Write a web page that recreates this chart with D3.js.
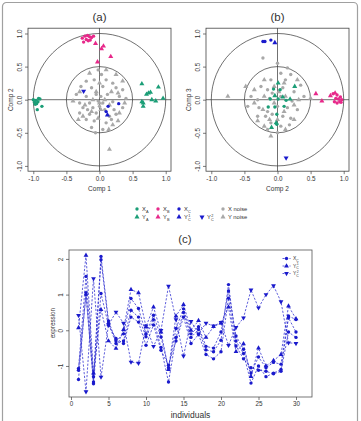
<!DOCTYPE html>
<html>
<head>
<meta charset="utf-8">
<script src="https://cdn.jsdelivr.net/npm/d3@7"></script>
<style>
body { margin: 0; background: #fff; }
text { font-family: "Liberation Sans", Arial, sans-serif; fill: #333; }
</style>
</head>
<body>
<div id="chart"></div>
<script>

/*
DATA - PANEL (a): COMP 1 vs COMP 2
*/
const aXA = [[-0.92,0.02],[-0.96,-0.01],[-0.95,-0.06],[-0.97,-0.07],[-0.93,-0.03],[-0.87,-0.1],[-0.94,-0.15],[-1.0,0.0],[-0.9,0.01],[-0.98,-0.04]];
const aYA = [[0.64,0.24],[0.89,0.19],[0.74,0.1],[0.71,0.08],[0.77,0.11],[0.96,0.02],[0.79,0.0],[0.85,-0.02],[0.64,-0.03],[0.66,-0.1],[0.66,-0.05]];
const aXB = [[-0.22,0.96],[-0.18,0.97],[-0.15,0.95],[-0.12,0.94],[-0.24,0.87],[-0.2,0.91],[-0.17,0.89],[-0.09,0.96],[-0.14,0.9],[-0.26,0.93]];
const aYB = [[-0.06,0.85],[0.03,0.77],[0.06,0.81],[0.17,0.65],[-0.03,0.57]];
const aXC = [[0.29,-0.06],[0.13,-0.1],[0.1,-0.18]];
const aYC1 = [[0.12,-0.23]];
const aYC2 = [[-0.24,0.13]];
const aNoiseX = [[-0.02,0.45],[0.03,0.38],[-0.08,0.3],[0.1,0.3],[0.2,0.25],[-0.2,0.28],[-0.28,0.2],[-0.12,0.18],[0.05,0.2],[0.25,0.18],[0.35,0.15],[-0.35,0.08],[-0.2,0.05],[-0.05,0.08],[0.02,0.05],[0.12,0.08],[0.3,0.05],[0.4,0.02],[-0.3,-0.05],[-0.15,-0.05],[-0.02,-0.02],[0.05,-0.05],[0.2,-0.03],[-0.25,-0.12],[-0.18,-0.15],[-0.1,-0.12],[0.0,-0.1],[0.08,-0.15],[0.22,-0.15],[0.35,-0.12],[-0.3,-0.2],[-0.15,-0.22],[-0.05,-0.2],[0.15,-0.25],[0.25,-0.22],[-0.2,-0.3],[-0.08,-0.32],[0.1,-0.35],[0.18,-0.3],[-0.12,-0.42],[0.05,-0.45],[-0.06,-0.5]];
const aNoiseY = [[0.25,0.38],[0.35,0.28],[-0.15,0.4],[0.0,0.25],[-0.3,0.12],[0.18,0.12],[0.28,0.1],[-0.1,0.0],[0.08,0.0],[-0.4,-0.02],[0.38,-0.05],[-0.22,-0.08],[0.0,-0.05],[0.15,-0.08],[-0.12,-0.18],[0.02,-0.15],[0.3,-0.2],[-0.25,-0.25],[-0.02,-0.28],[0.2,-0.38],[0.14,-0.45],[-0.32,-0.3],[0.28,-0.32],[0.15,-0.75],[-0.05,0.12],[0.1,0.45]];

/*
DATA - PANEL (b): COMP 2 vs COMP 3
*/
const bXA = [[-0.06,0.16],[0.04,0.15],[-0.11,0.01],[0.01,0.01],[0.13,-0.01],[-0.04,-0.11],[-0.01,-0.22],[-0.01,-0.37],[-0.14,-0.11],[0.1,-0.1]];
const bYA = [[0.01,0.25],[0.26,0.2],[-0.04,0.06],[0.19,0.01],[-0.09,-0.42],[0.08,0.04],[-0.02,-0.35]];
const bXB = [[0.84,0.09],[0.9,0.07],[0.92,0.01],[0.95,0.04],[0.97,0.0],[0.94,-0.03],[0.86,-0.03],[0.9,-0.05],[0.96,-0.04],[0.88,0.02]];
const bYB = [[0.58,0.09],[0.67,-0.02],[0.8,0.06],[0.87,0.1]];
const bXC = [[-0.22,0.88],[-0.19,0.88],[-0.1,0.9]];
const bYC1 = [[-0.04,0.86]];
const bYC2 = [[0.13,-0.88]];
const bNoiseX = [[0.0,0.55],[0.15,0.48],[0.05,0.4],[-0.1,0.3],[0.12,0.3],[0.2,0.38],[-0.25,0.2],[-0.15,0.15],[0.08,0.18],[0.25,0.12],[-0.4,0.05],[-0.3,0.0],[-0.12,0.02],[0.05,0.05],[0.22,-0.02],[0.4,0.05],[-0.45,-0.1],[-0.28,-0.12],[-0.15,-0.18],[0.0,-0.1],[0.15,-0.12],[0.3,-0.15],[-0.3,-0.25],[-0.18,-0.25],[-0.08,-0.22],[0.08,-0.25],[0.2,-0.28],[-0.1,-0.35],[0.05,-0.4],[0.18,-0.38],[-0.15,-0.45],[0.0,-0.5],[-0.22,0.63],[-0.08,0.1],[0.35,0.22]];
const bNoiseY = [[0.1,0.25],[-0.05,0.2],[-0.2,0.3],[0.3,0.3],[-0.35,0.15],[0.02,0.12],[-0.2,0.05],[0.12,0.05],[0.32,0.0],[-0.35,-0.05],[-0.05,-0.05],[0.25,-0.08],[-0.22,-0.15],[0.1,-0.18],[-0.3,-0.32],[-0.12,-0.3],[0.25,-0.3],[-0.2,-0.4],[0.12,-0.45],[-0.1,-0.55],[-0.75,0.05],[0.5,0.02],[-0.48,0.2],[0.0,-0.3]];

const circTicks = [-1.0, -0.5, 0.0, 0.5, 1.0];

/*
DATA - PANEL (c): EXPRESSION OF GROUP C VARIABLES
*/
const individuals = [1,2,3,4,5,6,7,8,9,10,11,12,13,14,15,16,17,18,19,20,21,22,23,24,25,26,27,28,29,30];
const xc1 = [-1.07,1.51,-1.3,2.07,0.26,-0.3,-0.1,0.89,0.61,-0.1,0.42,-0.19,-1.05,0.05,0.6,-0.1,0.1,-0.45,-0.5,-0.05,1.1,-0.16,-0.53,-1.2,-0.75,-1.05,-0.9,-0.95,0.4,0.3];
const xc2 = [-1.38,1.05,-1.45,1.98,0.2,-0.37,-0.3,0.56,0.37,-0.18,0.3,-0.48,-1.45,-0.2,0.5,-0.2,0.02,-0.55,-0.6,-0.28,1.28,-0.3,-0.65,-1.48,-1.0,-1.3,-1.2,-1.1,0.35,-0.05];
const xc3 = [-1.12,1.0,-1.5,1.03,0.14,-0.23,-0.37,0.37,0.23,-0.42,0.15,-0.56,-0.98,-0.3,0.37,-0.37,-0.12,-0.68,-0.8,-0.6,0.9,-0.44,-0.8,-1.05,-1.12,-1.15,-1.22,-1.15,-0.05,-0.2];
const yc1 = [0.07,2.1,-1.2,0.58,-0.3,-0.51,0.02,1.14,1.05,0.1,0.65,-0.05,-1.1,0.4,0.72,0.0,0.27,-0.2,0.1,0.2,0.65,-0.6,-0.38,-1.3,-0.5,-1.0,-0.85,-0.68,0.68,0.32];
const yc2 = [0.42,-1.72,1.45,-1.31,0.15,0.51,0.2,-0.89,-0.92,0.12,-0.45,0.0,1.24,0.3,-0.72,0.25,-0.1,0.2,0.12,0.22,-0.42,0.08,0.35,1.13,0.63,1.0,1.25,0.8,-0.35,-0.37];
const cXTicks = [0, 5, 10, 15, 20, 25, 30];
const cYTicks = [-1, 0, 1, 2];


/*
COLOURS + SVG CANVAS
*/
const green = "#1b9e77";
const pink = "#e7298a";
const blue = "#1a1acc";
const grey = "#a8a8a8";

const width = 361;
const height = 421;

// R style labels: plain hyphen for negatives
const fmt1 = function(d) { return d3.format(".1f")(d).replace("−", "-"); };
const fmt0 = function(d) { return String(d); };

const svg = d3.select("#chart")
    .append("svg")
    .attr("width", width)
    .attr("height", height);

// outer frame of the figure
svg.append("rect")
    .attr("x", 2.5)
    .attr("y", 2.5)
    .attr("width", 355)
    .attr("height", 440)
    .attr("rx", 4)
    .attr("fill", "none")
    .attr("stroke", "#a0a0a0")
    .attr("stroke-width", 1.2);

const symCircle = d3.symbol().type(d3.symbolCircle).size(9);
const symTri = d3.symbol().type(d3.symbolTriangle).size(11);


/*
CORRELATION CIRCLE PANEL
*/
function drawCirclePanel(cx, title, xLab, yLab, groups) {
    const xScale = d3.scaleLinear()
        .domain([-1.08, 1.08])
        .range([cx - 71.5, cx + 71.5]);
    const yScale = d3.scaleLinear()
        .domain([-1.08, 1.08])
        .range([171.2, 28.2]);

    const g = svg.append("g");

    // box
    g.append("rect")
        .attr("x", xScale(-1.08))
        .attr("y", yScale(1.08))
        .attr("width", xScale(1.08) - xScale(-1.08))
        .attr("height", yScale(-1.08) - yScale(1.08))
        .attr("fill", "none")
        .attr("stroke", "#444")
        .attr("stroke-width", 0.8);

    // circles r = 1 and r = 0.5
    [1, 0.5].forEach(function(r) {
        g.append("ellipse")
            .attr("cx", xScale(0))
            .attr("cy", yScale(0))
            .attr("rx", xScale(r) - xScale(0))
            .attr("ry", yScale(0) - yScale(r))
            .attr("fill", "none")
            .attr("stroke", "#333")
            .attr("stroke-width", 0.7);
    });

    // cross lines
    g.append("line")
        .attr("x1", xScale(-1.08)).attr("x2", xScale(1.08))
        .attr("y1", yScale(0)).attr("y2", yScale(0))
        .attr("stroke", "#333").attr("stroke-width", 0.7);
    g.append("line")
        .attr("x1", xScale(0)).attr("x2", xScale(0))
        .attr("y1", yScale(-1.08)).attr("y2", yScale(1.08))
        .attr("stroke", "#333").attr("stroke-width", 0.7);

    // axes
    const xAxis = g.append("g")
        .attr("transform", `translate(0,${yScale(-1.08)})`)
        .call(d3.axisBottom(xScale).tickValues(circTicks).tickFormat(fmt1).tickSize(3).tickSizeOuter(0));
    xAxis.select(".domain").remove();
    xAxis.selectAll("line").attr("stroke", "#444").attr("stroke-width", 0.7);
    xAxis.selectAll("text").attr("font-size", 6.3).attr("y", 5).attr("fill", "#333");

    const yAxis = g.append("g")
        .attr("transform", `translate(${xScale(-1.08)},0)`)
        .call(d3.axisLeft(yScale).tickValues(circTicks).tickFormat(fmt1).tickSize(3).tickSizeOuter(0));
    yAxis.select(".domain").remove();
    yAxis.selectAll("line").attr("stroke", "#444").attr("stroke-width", 0.7);
    yAxis.selectAll("text")
        .attr("font-size", 6.3)
        .attr("text-anchor", "middle")
        .attr("x", 0)
        .attr("y", -6)
        .attr("dy", 0)
        .attr("transform", "rotate(-90)")
        .attr("fill", "#333");

    // axis labels
    g.append("text")
        .attr("x", cx)
        .attr("y", 190.5)
        .attr("text-anchor", "middle")
        .attr("font-size", 6.5)
        .text(xLab);
    g.append("text")
        .attr("transform", `translate(${xScale(-1.08) - 15},${yScale(0)}) rotate(-90)`)
        .attr("text-anchor", "middle")
        .attr("font-size", 6.5)
        .text(yLab);

    // title
    g.append("text")
        .attr("x", cx)
        .attr("y", 21)
        .attr("text-anchor", "middle")
        .attr("font-size", 11.5)
        .attr("fill", "#111")
        .text(title);

    // points
    groups.forEach(function(grp) {
        g.selectAll(null)
            .data(grp.data)
            .enter()
            .append("path")
            .attr("d", grp.shape === "circle" ? symCircle : symTri)
            .attr("transform", function(d) {
                return `translate(${xScale(d[0])},${yScale(d[1])})` + (grp.shape === "down" ? " rotate(180)" : "");
            })
            .attr("fill", grp.color);
    });
}

drawCirclePanel(99.5, "(a)", "Comp 1", "Comp 2", [
    {data: aNoiseX, shape: "circle", color: grey},
    {data: aNoiseY, shape: "up", color: grey},
    {data: aXA, shape: "circle", color: green},
    {data: aYA, shape: "up", color: green},
    {data: aXB, shape: "circle", color: pink},
    {data: aYB, shape: "up", color: pink},
    {data: aXC, shape: "circle", color: blue},
    {data: aYC1, shape: "up", color: blue},
    {data: aYC2, shape: "down", color: blue}
]);

drawCirclePanel(277.5, "(b)", "Comp 2", "Comp 3", [
    {data: bNoiseX, shape: "circle", color: grey},
    {data: bNoiseY, shape: "up", color: grey},
    {data: bXA, shape: "circle", color: green},
    {data: bYA, shape: "up", color: green},
    {data: bXB, shape: "circle", color: pink},
    {data: bYB, shape: "up", color: pink},
    {data: bXC, shape: "circle", color: blue},
    {data: bYC1, shape: "up", color: blue},
    {data: bYC2, shape: "down", color: blue}
]);


/*
SHARED LEGEND
*/
const legendItems = [
    {x: 137, row: 0, shape: "circle", color: green, base: "X", sub: "A"},
    {x: 137, row: 1, shape: "up", color: green, base: "Y", sub: "A"},
    {x: 158, row: 0, shape: "circle", color: pink, base: "X", sub: "B"},
    {x: 158, row: 1, shape: "up", color: pink, base: "Y", sub: "B"},
    {x: 179, row: 0, shape: "circle", color: blue, base: "X", sub: "C"},
    {x: 179, row: 1, shape: "up", color: blue, base: "Y", sub: "C", sup: "1"},
    {x: 202, row: 1, shape: "down", color: blue, base: "Y", sub: "C", sup: "2"},
    {x: 223, row: 0, shape: "circle", color: grey, base: "X noise"},
    {x: 223, row: 1, shape: "up", color: grey, base: "Y noise"}
];

const legend = svg.append("g");
legendItems.forEach(function(d) {
    const y = 209 + d.row * 8;
    legend.append("path")
        .attr("d", d.shape === "circle" ? symCircle : symTri)
        .attr("transform", `translate(${d.x},${y})` + (d.shape === "down" ? " rotate(180)" : ""))
        .attr("fill", d.color);
    const t = legend.append("text")
        .attr("x", d.x + 5)
        .attr("y", y + 2)
        .attr("font-size", 5.8)
        .text(d.base);
    if (d.sub) {
        t.append("tspan").attr("font-size", 3.8).attr("dy", 1.5).text(d.sub);
    }
    if (d.sup) {
        t.append("tspan").attr("font-size", 3.8).attr("dx", -2.4).attr("dy", -4).text(d.sup);
    }
});


/*
PANEL (c): LINE CHART
*/
const cx0 = 69, cx1 = 312, cy0 = 250, cy1 = 397;

const xScaleC = d3.scaleLinear()
    .domain([0, 30])
    .range([71, 296]);

const yScaleC = d3.scaleLinear()
    .domain([-1.87, 2.25])
    .range([cy1, cy0]);

svg.append("text")
    .attr("x", 185)
    .attr("y", 243)
    .attr("text-anchor", "middle")
    .attr("font-size", 11.5)
    .attr("fill", "#111")
    .text("(c)");

svg.append("rect")
    .attr("x", cx0)
    .attr("y", cy0)
    .attr("width", cx1 - cx0)
    .attr("height", cy1 - cy0)
    .attr("fill", "none")
    .attr("stroke", "#555")
    .attr("stroke-width", 0.8);

const xAxisC = svg.append("g")
    .attr("transform", `translate(0,${cy1})`)
    .call(d3.axisBottom(xScaleC).tickValues(cXTicks).tickFormat(fmt0).tickSize(3).tickSizeOuter(0));
xAxisC.select(".domain").remove();
xAxisC.selectAll("line").attr("stroke", "#444").attr("stroke-width", 0.7);
xAxisC.selectAll("text").attr("font-size", 6.3).attr("y", 5).attr("fill", "#333");

const yAxisC = svg.append("g")
    .attr("transform", `translate(${cx0},0)`)
    .call(d3.axisLeft(yScaleC).tickValues(cYTicks).tickFormat(fmt0).tickSize(3).tickSizeOuter(0));
yAxisC.select(".domain").remove();
yAxisC.selectAll("line").attr("stroke", "#444").attr("stroke-width", 0.7);
yAxisC.selectAll("text")
    .attr("font-size", 6.3)
    .attr("text-anchor", "middle")
    .attr("x", 0)
    .attr("y", -6)
    .attr("dy", 0)
    .attr("transform", "rotate(-90)")
    .attr("fill", "#333");

svg.append("text")
    .attr("x", (cx0 + cx1) / 2)
    .attr("y", 418)
    .attr("text-anchor", "middle")
    .attr("font-size", 8.5)
    .text("individuals");

svg.append("text")
    .attr("transform", `translate(55,${yScaleC(0.2)}) rotate(-90)`)
    .attr("text-anchor", "middle")
    .attr("font-size", 6.3)
    .text("expression");

const line = d3.line()
    .x(function(d) { return xScaleC(d.x); })
    .y(function(d) { return yScaleC(d.y); });

const cSeries = [
    {values: xc1, shape: "circle"},
    {values: xc2, shape: "circle"},
    {values: xc3, shape: "circle"},
    {values: yc1, shape: "up"},
    {values: yc2, shape: "down"}
];

const symCircleC = d3.symbol().type(d3.symbolCircle).size(9);
const symTriC = d3.symbol().type(d3.symbolTriangle).size(10);

cSeries.forEach(function(s) {
    const pts = individuals.map(function(ind, i) { return {x: ind, y: s.values[i]}; });
    svg.append("path")
        .datum(pts)
        .attr("d", line)
        .attr("fill", "none")
        .attr("stroke", blue)
        .attr("stroke-width", 0.7)
        .attr("stroke-dasharray", "2.2,1.6");
    svg.selectAll(null)
        .data(pts)
        .enter()
        .append("path")
        .attr("d", s.shape === "circle" ? symCircleC : symTriC)
        .attr("transform", function(d) {
            return `translate(${xScaleC(d.x)},${yScaleC(d.y)})` + (s.shape === "down" ? " rotate(180)" : "");
        })
        .attr("fill", blue);
});

// legend of panel (c)
const cLegend = [
    {shape: "circle", base: "X", sub: "C"},
    {shape: "up", base: "Y", sub: "C", sup: "1"},
    {shape: "down", base: "Y", sub: "C", sup: "2"}
];
cLegend.forEach(function(d, i) {
    const y = 258.5 + i * 7.5;
    svg.append("line")
        .attr("x1", 282.5).attr("x2", 290.5)
        .attr("y1", y).attr("y2", y)
        .attr("stroke", blue)
        .attr("stroke-width", 0.7)
        .attr("stroke-dasharray", "2,1.5");
    svg.append("path")
        .attr("d", d.shape === "circle" ? symCircleC : symTriC)
        .attr("transform", `translate(286.5,${y})` + (d.shape === "down" ? " rotate(180)" : ""))
        .attr("fill", blue);
    const t = svg.append("text")
        .attr("x", 293)
        .attr("y", y + 1.8)
        .attr("font-size", 5)
        .attr("fill", "#888")
        .text(d.base);
    t.append("tspan").attr("font-size", 3.4).attr("dy", 1.2).text(d.sub);
    if (d.sup) {
        t.append("tspan").attr("font-size", 3.4).attr("dx", -2).attr("dy", -3.6).text(d.sup);
    }
});

</script>
</body>
</html>
